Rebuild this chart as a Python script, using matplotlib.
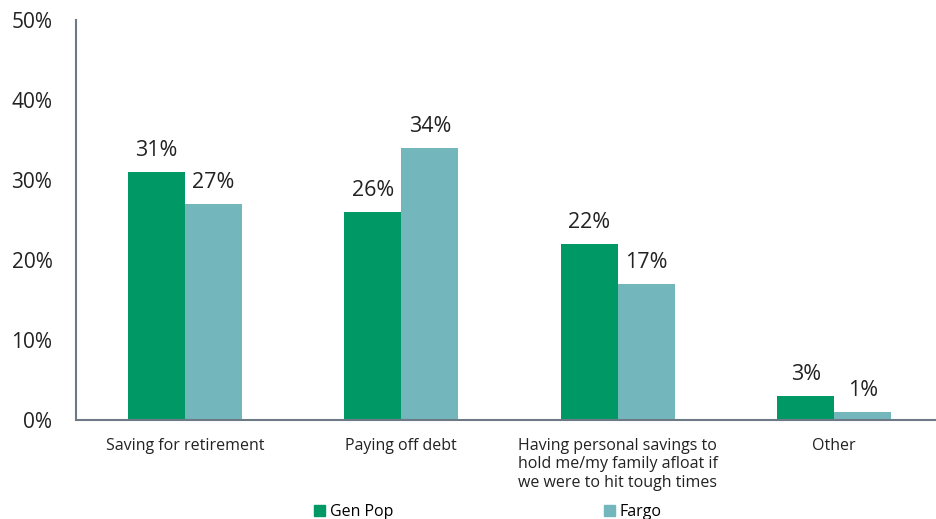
import numpy as np
import matplotlib.pyplot as plt
from matplotlib.patches import Patch

plt.rcParams['font.family'] = ['Open Sans', 'DejaVu Sans']

categories = ["Saving for retirement", "Paying off debt",
              "Having personal savings to\nhold me/my family afloat if\nwe were to hit tough times",
              "Other"]
gen_pop = [31, 26, 22, 3]
fargo = [27, 34, 17, 1]
series_names = ["Gen Pop", "Fargo"]
colors = ["#009966", "#73b7bd"]

fig = plt.figure(figsize=(9.36, 5.19), dpi=100)
ax = fig.add_axes([0.0812, 0.1908, 0.9188, 0.7707])

x = np.arange(len(categories))
w = 0.263
for vals, off, col in [(gen_pop, -w / 2, colors[0]), (fargo, w / 2, colors[1])]:
    bars = ax.bar(x + off, vals, width=w, color=col)
    for b, v in zip(bars, vals):
        ax.text(b.get_x() + b.get_width() / 2, v + 1.4, f"{v}%",
                ha="center", va="bottom", fontsize=15.5, color="#222222")

ax.set_xlim(-0.503, 3.47)
ax.set_ylim(0, 50)
ax.set_yticks(range(0, 51, 10))
ax.set_yticklabels([f"{t}%" for t in range(0, 51, 10)], fontsize=15, color="#222222")
ax.set_xticks(x)
ax.set_xticklabels(categories, fontsize=11.5, color="#222222", linespacing=1.2)
ax.tick_params(length=0)
ax.tick_params(axis="y", pad=17)
ax.tick_params(axis="x", pad=13)
for s in ["top", "right"]:
    ax.spines[s].set_visible(False)
for s in ["left", "bottom"]:
    ax.spines[s].set_color("#6d7a85")
    ax.spines[s].set_linewidth(1.5)

handles = [Patch(color=c) for c in colors]
fig.legend(handles, series_names, loc="center", bbox_to_anchor=(0.521, 0.014),
           ncol=2, frameon=False, fontsize=11.5, handlelength=0.7, handleheight=0.7,
           handletextpad=0.3, columnspacing=13.2)

fig.savefig("out.png", dpi=100)
